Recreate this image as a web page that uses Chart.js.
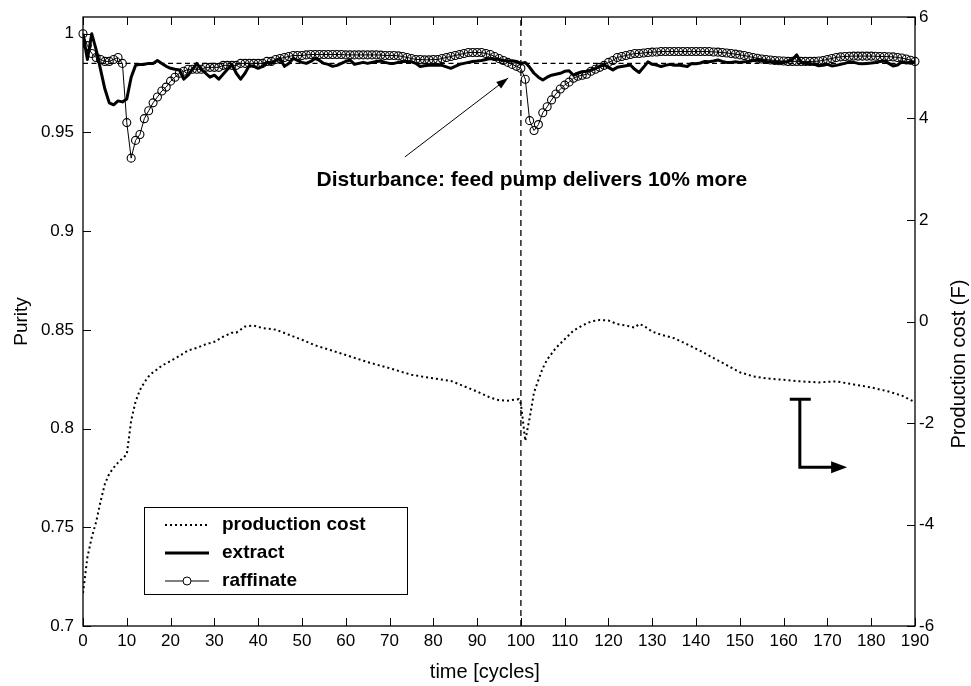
<!DOCTYPE html>
<html>
<head>
<meta charset="utf-8">
<script src="https://cdn.jsdelivr.net/npm/chart.js@4.4.1/dist/chart.umd.min.js"></script>
<style>
  html, body { margin: 0; padding: 0; background: #fff; }
  #wrap { width: 971px; height: 686px; }
</style>
</head>
<body>
<div id="wrap"><canvas id="c" width="971" height="686"></canvas></div>
<script>
// ---- data -------------------------------------------------------------
const cycles = [0,1,2,3,4,5,6,7,8,9,10,11,12,13,14,15,16,17,18,19,20,21,22,23,24,25,26,27,28,29,30,31,32,33,34,35,36,37,38,39,40,41,42,43,44,45,46,47,48,49,50,51,52,53,54,55,56,57,58,59,60,61,62,63,64,65,66,67,68,69,70,71,72,73,74,75,76,77,78,79,80,81,82,83,84,85,86,87,88,89,90,91,92,93,94,95,96,97,98,99,100,101,102,103,104,105,106,107,108,109,110,111,112,113,114,115,116,117,118,119,120,121,122,123,124,125,126,127,128,129,130,131,132,133,134,135,136,137,138,139,140,141,142,143,144,145,146,147,148,149,150,151,152,153,154,155,156,157,158,159,160,161,162,163,164,165,166,167,168,169,170,171,172,173,174,175,176,177,178,179,180,181,182,183,184,185,186,187,188,189,190];

// extract purity per cycle
const extractPurity = [
  1.000,0.987,1.000,0.992,0.982,0.972,0.965,0.964,0.966,0.9655,
  0.967,0.978,0.984,0.9845,0.9845,0.985,0.985,0.9865,0.985,0.9835,
  0.9825,0.982,0.9817,0.977,0.979,0.982,0.985,0.982,0.980,0.978,
  0.979,0.977,0.9795,0.982,0.9845,0.980,0.977,0.980,0.984,0.9835,
  0.9825,0.9835,0.9855,0.985,0.9865,0.9875,0.9835,0.985,0.9875,0.9865,
  0.9855,0.985,0.986,0.9875,0.9865,0.985,0.9845,0.9835,0.984,0.985,
  0.986,0.9867,0.9845,0.985,0.9855,0.985,0.9855,0.986,0.9862,0.9855,
  0.985,0.985,0.9855,0.986,0.986,0.9858,0.985,0.9834,0.9838,0.984,
  0.984,0.9842,0.984,0.9832,0.9825,0.9835,0.9845,0.985,0.9855,0.986,
  0.9862,0.9865,0.987,0.9875,0.9872,0.987,0.9865,0.9862,0.9863,0.986,
  0.985,0.9854,0.983,0.980,0.978,0.9766,0.978,0.979,0.9795,0.980,
  0.981,0.9813,0.979,0.980,0.9808,0.981,0.9817,0.9825,0.9835,0.9842,
  0.983,0.9817,0.983,0.9834,0.9838,0.9842,0.982,0.9804,0.983,0.9858,
  0.9845,0.9842,0.9834,0.984,0.9845,0.984,0.9842,0.9838,0.9834,0.985,
  0.9848,0.9852,0.986,0.9858,0.9862,0.9867,0.986,0.9855,0.9854,0.9858,
  0.9855,0.9858,0.986,0.9865,0.9867,0.9865,0.986,0.9858,0.9855,0.9854,
  0.9855,0.986,0.987,0.9893,0.9855,0.985,0.985,0.9845,0.9838,0.984,
  0.9845,0.9837,0.984,0.9845,0.985,0.9858,0.9855,0.985,0.9848,0.985,
  0.9852,0.9855,0.986,0.9862,0.985,0.9837,0.9842,0.9858,0.9852,0.9856,
  0.9855
];

// raffinate purity per cycle
const raffinatePurity = [
  1.000,0.994,0.990,0.988,0.987,0.986,0.986,0.987,0.988,0.985,
  0.955,0.937,0.946,0.949,0.957,0.961,0.965,0.968,0.971,0.973,
  0.976,0.978,0.980,0.981,0.982,0.982,0.982,0.982,0.983,0.983,
  0.983,0.983,0.984,0.984,0.984,0.984,0.985,0.985,0.985,0.985,
  0.985,0.985,0.986,0.986,0.987,0.9875,0.988,0.9885,0.989,0.989,
  0.989,0.9893,0.9895,0.9895,0.9895,0.9895,0.9895,0.9895,0.9895,0.9895,
  0.9893,0.9893,0.9893,0.9893,0.9893,0.9893,0.9893,0.9893,0.9892,0.989,
  0.989,0.989,0.9888,0.9885,0.988,0.9875,0.987,0.987,0.9868,0.9868,
  0.987,0.987,0.9875,0.988,0.9885,0.989,0.9895,0.990,0.9905,0.9905,
  0.9905,0.9905,0.990,0.9895,0.9885,0.9875,0.9865,0.9855,0.9845,0.9835,
  0.9825,0.977,0.956,0.951,0.954,0.960,0.963,0.9665,0.9695,0.972,
  0.974,0.9755,0.9775,0.9785,0.979,0.9795,0.981,0.982,0.983,0.984,
  0.9855,0.9865,0.988,0.9885,0.989,0.9895,0.990,0.990,0.9903,0.9905,
  0.9907,0.9908,0.991,0.991,0.991,0.991,0.991,0.991,0.991,0.991,
  0.991,0.991,0.991,0.991,0.9908,0.9907,0.9905,0.9903,0.990,0.9897,
  0.9893,0.989,0.9885,0.988,0.9876,0.9872,0.987,0.9867,0.9865,0.9863,
  0.9862,0.986,0.986,0.986,0.986,0.986,0.986,0.986,0.9862,0.9865,
  0.987,0.9875,0.988,0.9883,0.9885,0.9886,0.9887,0.9887,0.9887,0.9887,
  0.9887,0.9886,0.9885,0.9885,0.9884,0.9883,0.988,0.9877,0.9872,0.9866,
  0.986
];

// production cost (right axis), sampled at these cycles
const costCycles = [0,1,2,3,4,5,6,7,8,9,10,11,12,13,14,15,16,17,18,20,22,24,26,28,30,32,34,35,37,39,41,44,47,50,53,56,60,65,70,75,80,84,86,90,93,95,97,99.5,100,101,102,103,104,105,106,108,110,112,114,116,118,120,122,124,126,127,128,130,132,135,138,141,144,147,150,153,156,160,164,168,172,176,180,184,187,190];
const costValues = [-5.35,-4.65,-4.25,-3.95,-3.55,-3.2,-3.0,-2.88,-2.78,-2.7,-2.62,-1.95,-1.58,-1.35,-1.2,-1.08,-1.0,-0.94,-0.87,-0.78,-0.68,-0.57,-0.52,-0.45,-0.40,-0.30,-0.22,-0.22,-0.10,-0.08,-0.13,-0.16,-0.26,-0.36,-0.47,-0.55,-0.66,-0.80,-0.92,-1.05,-1.12,-1.17,-1.24,-1.38,-1.50,-1.55,-1.56,-1.53,-1.62,-2.35,-1.9,-1.4,-1.15,-0.92,-0.75,-0.52,-0.35,-0.18,-0.08,0.0,0.03,0.02,-0.05,-0.08,-0.12,-0.05,-0.08,-0.2,-0.26,-0.33,-0.45,-0.58,-0.72,-0.86,-1.0,-1.08,-1.12,-1.15,-1.18,-1.20,-1.18,-1.24,-1.30,-1.38,-1.46,-1.59];

const seriesNames = ['production cost', 'extract', 'raffinate'];
const puritySetpoint = 0.985;
const disturbanceCycle = 100;
const disturbanceText = 'Disturbance: feed pump delivers 10% more';

const xTicks = [0,10,20,30,40,50,60,70,80,90,100,110,120,130,140,150,160,170,180,190];
const purityTicks = [0.7,0.75,0.8,0.85,0.9,0.95,1];
const costTicks = [-6,-4,-2,0,2,4,6];
const xRange = [0, 190];
const purityRange = [0.7, 1.0085];
const costRange = [-6, 6];

// ---- helpers ----------------------------------------------------------
const FONT = "'Liberation Sans', Arial, Helvetica, sans-serif";
const pts = (xs, ys) => xs.map((x, i) => ({ x, y: ys[i] }));

// chart-area geometry
const AREA = { left: 83, right: 915, top: 17, bottom: 626 };
const W = 971, H = 686;

function arrowHead(ctx, x1, y1, x2, y2, len, half) {
  const a = Math.atan2(y2 - y1, x2 - x1);
  ctx.beginPath();
  ctx.moveTo(x2, y2);
  ctx.lineTo(x2 - len * Math.cos(a) + half * Math.sin(a), y2 - len * Math.sin(a) - half * Math.cos(a));
  ctx.lineTo(x2 - len * Math.cos(a) - half * Math.sin(a), y2 - len * Math.sin(a) + half * Math.cos(a));
  ctx.closePath();
  ctx.fill();
}

// frame with inward ticks, legend box, annotations and axis titles
const decorations = {
  id: 'decorations',
  afterDatasetsDraw(chart) {
    const { ctx, chartArea: a, scales } = chart;
    const sx = scales.x, sy = scales.y, sy2 = scales.y2;
    ctx.save();

    // box
    ctx.strokeStyle = '#000';
    ctx.lineWidth = 1.3;
    ctx.strokeRect(a.left, a.top, a.right - a.left, a.bottom - a.top);

    // inward tick marks
    const T = 8;
    ctx.lineWidth = 1;
    ctx.beginPath();
    xTicks.forEach(v => {
      const p = Math.round(sx.getPixelForValue(v)) + 0.5;
      ctx.moveTo(p, a.bottom); ctx.lineTo(p, a.bottom - T);
      ctx.moveTo(p, a.top); ctx.lineTo(p, a.top + T);
    });
    purityTicks.forEach(v => {
      const p = Math.round(sy.getPixelForValue(v)) + 0.5;
      ctx.moveTo(a.left, p); ctx.lineTo(a.left + T, p);
    });
    costTicks.forEach(v => {
      const p = Math.round(sy2.getPixelForValue(v)) + 0.5;
      ctx.moveTo(a.right, p); ctx.lineTo(a.right - T, p);
    });
    ctx.stroke();

    // annotation arrow pointing at the disturbance
    ctx.fillStyle = '#000';
    ctx.strokeStyle = '#000';
    ctx.lineWidth = 1;
    const ax1 = sx.getPixelForValue(73.5), ay1 = sy.getPixelForValue(0.9376);
    const ax2 = sx.getPixelForValue(97.1), ay2 = sy.getPixelForValue(0.9776);
    ctx.beginPath(); ctx.moveTo(ax1, ay1); ctx.lineTo(ax2, ay2); ctx.stroke();
    arrowHead(ctx, ax1, ay1, ax2, ay2, 12, 4);

    ctx.font = "bold 21px " + FONT;
    ctx.textAlign = 'center';
    ctx.textBaseline = 'middle';
    ctx.fillText(disturbanceText, sx.getPixelForValue(102.5), sy.getPixelForValue(0.926));

    // marker showing the cost curve belongs to the right axis
    ctx.lineWidth = 3;
    const capY = sy2.getPixelForValue(-1.53);
    const footY = sy2.getPixelForValue(-2.87);
    const stemX = sx.getPixelForValue(163.7);
    ctx.beginPath();
    ctx.moveTo(sx.getPixelForValue(161.4), capY); ctx.lineTo(sx.getPixelForValue(166.2), capY);
    ctx.moveTo(stemX, capY); ctx.lineTo(stemX, footY);
    const endX = sx.getPixelForValue(174.5);
    ctx.lineTo(endX - 12, footY);
    ctx.stroke();
    arrowHead(ctx, stemX, footY, endX, footY, 16, 6);

    // legend
    const lx = a.left + 61, ly = a.top + 490, lw = 263, lh = 87;
    ctx.fillStyle = '#fff';
    ctx.fillRect(lx, ly, lw, lh);
    ctx.strokeStyle = '#000';
    ctx.lineWidth = 1;
    ctx.strokeRect(lx + 0.5, ly + 0.5, lw, lh);
    const rows = [ly + 18, ly + 46, ly + 74];
    const ds = chart.data.datasets;
    seriesNames.forEach((name, i) => {
      const d = ds.find(s => s.label === name);
      const y = rows[i];
      ctx.save();
      ctx.strokeStyle = '#000';
      ctx.lineWidth = d.borderWidth;
      ctx.setLineDash(d.borderDash || []);
      ctx.beginPath(); ctx.moveTo(lx + 21, y); ctx.lineTo(lx + 65, y); ctx.stroke();
      ctx.restore();
      if (d.pointRadius > 0) {
        ctx.beginPath();
        ctx.arc(lx + 43, y, d.pointRadius, 0, Math.PI * 2);
        ctx.fillStyle = '#fff'; ctx.fill();
        ctx.lineWidth = 1; ctx.strokeStyle = '#000'; ctx.stroke();
      }
      ctx.fillStyle = '#000';
      ctx.font = "bold 19px " + FONT;
      ctx.textAlign = 'left';
      ctx.textBaseline = 'middle';
      ctx.fillText(name, lx + 78, y);
    });

    // x axis title
    ctx.fillStyle = '#000';
    ctx.font = "20px " + FONT;
    ctx.textAlign = 'center';
    ctx.textBaseline = 'middle';
    ctx.fillText('time [cycles]', a.left + 0.483 * (a.right - a.left), H - 14);

    // right axis title, reading bottom to top
    ctx.save();
    ctx.translate(sy2.right - 12, a.top + 0.57 * (a.bottom - a.top));
    ctx.rotate(-Math.PI / 2);
    ctx.font = "20px " + FONT;
    ctx.textAlign = 'center';
    ctx.textBaseline = 'middle';
    ctx.fillText('Production cost (F)', 0, 0);
    ctx.restore();

    ctx.restore();
  }
};

const tickFont = { family: FONT, size: 17 };

new Chart(document.getElementById('c'), {
  type: 'scatter',
  data: {
    datasets: [
      {
        label: 'raffinate',
        data: pts(cycles, raffinatePurity),
        yAxisID: 'y',
        showLine: true,
        borderColor: '#000',
        borderWidth: 1,
        pointRadius: 4,
        pointBorderWidth: 1.1,
        pointBorderColor: '#000',
        pointBackgroundColor: 'rgba(255,255,255,0)',
        clip: false,
        order: 1
      },
      {
        label: 'extract',
        data: pts(cycles, extractPurity),
        yAxisID: 'y',
        showLine: true,
        borderColor: '#000',
        borderWidth: 3,
        borderJoinStyle: 'round',
        pointRadius: 0,
        order: 2
      },
      {
        label: 'production cost',
        data: pts(costCycles, costValues),
        yAxisID: 'y2',
        showLine: true,
        borderColor: '#000',
        borderWidth: 2,
        borderDash: [2, 3],
        pointRadius: 0,
        order: 3
      },
      {
        label: 'setpoint',
        data: [{ x: xRange[0], y: puritySetpoint }, { x: xRange[1], y: puritySetpoint }],
        yAxisID: 'y',
        showLine: true,
        borderColor: '#000',
        borderWidth: 1.3,
        borderDash: [5, 3.5],
        pointRadius: 0,
        order: 4
      },
      {
        label: 'disturbance',
        data: [{ x: disturbanceCycle, y: purityRange[0] }, { x: disturbanceCycle, y: purityRange[1] }],
        yAxisID: 'y',
        showLine: true,
        borderColor: '#000',
        borderWidth: 1.3,
        borderDash: [6, 4],
        pointRadius: 0,
        order: 5
      }
    ]
  },
  options: {
    responsive: false,
    animation: false,
    devicePixelRatio: 1,
    layout: { padding: { top: AREA.top, left: 0, right: 0, bottom: 0 } },
    plugins: { legend: { display: false }, tooltip: { enabled: false } },
    elements: { line: { tension: 0 } },
    scales: {
      x: {
        type: 'linear',
        position: 'bottom',
        min: xRange[0], max: xRange[1],
        afterBuildTicks: s => { s.ticks = xTicks.map(v => ({ value: v })); },
        afterFit: s => { s.height = H - AREA.bottom; s.paddingLeft = 0; s.paddingRight = 0; },
        ticks: { color: '#000', font: tickFont, padding: 5, maxRotation: 0, autoSkip: false },
        grid: { display: false, drawTicks: false },
        border: { display: false }
      },
      y: {
        type: 'linear',
        position: 'left',
        min: purityRange[0], max: purityRange[1],
        afterBuildTicks: s => { s.ticks = purityTicks.map(v => ({ value: v })); },
        afterFit: s => { s.width = AREA.left; s.paddingTop = 0; s.paddingBottom = 0; },
        ticks: { color: '#000', font: tickFont, padding: 9, autoSkip: false, callback: v => String(+v.toFixed(2)) },
        grid: { display: false, drawTicks: false },
        border: { display: false },
        title: { display: true, text: 'Purity', color: '#000', font: { family: FONT, size: 19 }, padding: { top: 10, bottom: 0 } }
      },
      y2: {
        type: 'linear',
        position: 'right',
        min: costRange[0], max: costRange[1],
        afterBuildTicks: s => { s.ticks = costTicks.map(v => ({ value: v })); },
        afterFit: s => { s.width = W - AREA.right; s.paddingTop = 0; s.paddingBottom = 0; },
        ticks: { color: '#000', font: tickFont, padding: 4, autoSkip: false },
        grid: { display: false, drawTicks: false },
        border: { display: false }
      }
    }
  },
  plugins: [decorations]
});
</script>
</body>
</html>
